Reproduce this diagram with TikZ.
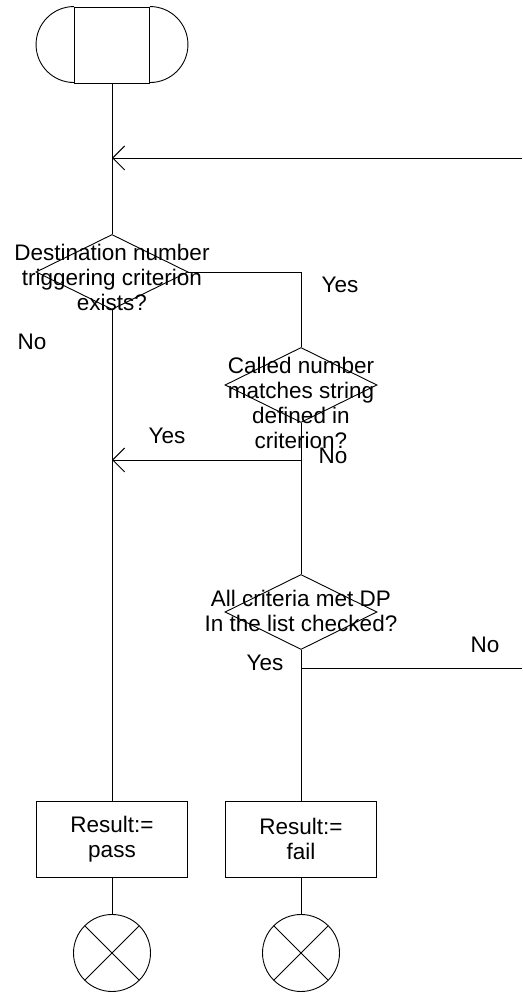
\documentclass[tikz,border=0pt]{standalone}
\usepackage{fontspec}
\setmainfont{Liberation Sans}
\usepackage{tikz}
\usetikzlibrary{shapes.geometric, arrows.meta, positioning, calc}

\begin{document}
\begin{tikzpicture}[x=1pt, y=1pt, line width=0.9pt, font=\fontsize{22.5}{25}\selectfont]
        \tikzstyle{block} = [rectangle, draw, minimum width=151, minimum height=76, inner sep=0, align=center]
        \tikzstyle{decision} = [diamond, draw, minimum width=152, minimum height=75, inner sep=0]
        \tikzstyle{qtext} = [align=center, inner sep=0]
        \tikzstyle{stopper} = [circle, draw, minimum size=77, inner sep=0,
            path picture={\draw (path picture bounding box.north west) -- (path picture bounding box.south east)
                (path picture bounding box.north east) -- (path picture bounding box.south west);}]
        \tikzstyle{line} = [draw, -{Straight Barb[length=12pt, width=24pt]}]

        \useasboundingbox (0,0) rectangle (522,992);

        % start symbol
        \node [rectangle, draw, minimum width=75, minimum height=76, inner sep=0] (start) at (112,947) {};
        \draw (start.north west) arc[start angle=90, end angle=270, radius=38];
        \draw (start.north east) arc[start angle=90, end angle=-90, radius=38];

        % decisions
        \node [decision] (crit) at (112,720) {};
        \node [qtext] (critq) at (112,715) {Destination number\\triggering criterion\\exists?};
        \node [decision] (match) at (301,607) {};
        \node [qtext] (matchq) at (301,589) {Called number\\matches string\\defined in\\criterion?};
        \node [decision] (allmet) at (301,380) {};
        \node [qtext] (allmetq) at (301,381) {All criteria met DP\\In the list checked?};

        % results
        \node [block] (pass) at (112,153) {Result:=\\pass};
        \node [block] (fail) at (301,153) {Result:=\\fail};
        \node [stopper] (endpass) at (112,39) {};
        \node [stopper] (endfail) at (301,39) {};

        % joins and loose ends
        \coordinate (loopin) at (522,834);
        \coordinate (loopjoin) at (112,834);
        \coordinate (yesjoin) at (301,532);
        \coordinate (yesmain) at (112,532);
        \coordinate (nojoin) at (301,324);
        \coordinate (noout) at (522,324);

        \draw (start.south) -- (crit.north);
        \path [line] (loopin) -- (loopjoin);
        \draw (crit.south) -- (pass.north);
        \draw (crit.east) -| (match.north);
        \draw (match.south) -- (allmet.north);
        \path [line] (yesjoin) -- (yesmain);
        \draw (allmet.south) -- (fail.north);
        \draw (nojoin) -- (noout);
        \draw (pass.south) -- (endpass.north);
        \draw (fail.south) -- (endfail.north);

        % branch labels
        \node (yes1) at (340,707) {Yes};
        \node (no1) at (32,650) {No};
        \node (yes2) at (167,556) {Yes};
        \node (no2) at (333,536) {No};
        \node (yes3) at (265,329) {Yes};
        \node (no3) at (485,347) {No};
\end{tikzpicture}
\end{document}
